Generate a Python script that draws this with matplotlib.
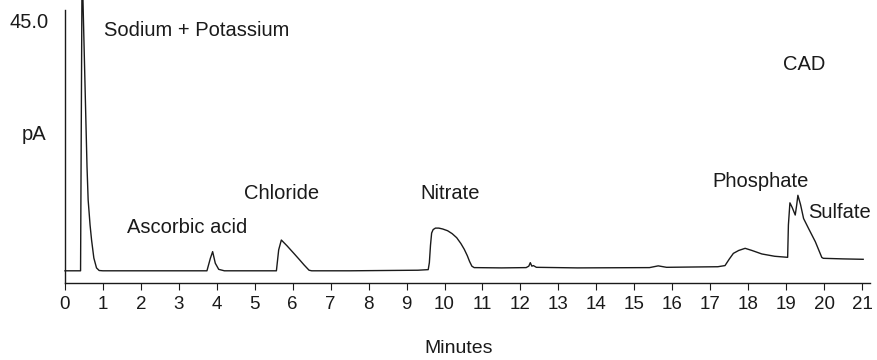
import matplotlib
matplotlib.use("Agg")
import matplotlib.pyplot as plt

plt.rcParams['font.family'] = ['Liberation Sans', 'DejaVu Sans']

# Chromatogram trace (minutes, pA)
time_min = [0.0, 0.41, 0.45, 0.55, 0.58, 0.61, 0.66, 0.70, 0.76, 0.83, 0.90, 1.0,
            2.5, 3.74, 3.83, 3.89, 3.96, 4.05, 4.2,
            5.0, 5.57, 5.63, 5.70, 5.85, 6.03, 6.18, 6.30, 6.43, 6.5,
            7.5, 9.3, 9.57, 9.60, 9.63, 9.66, 9.70, 9.76, 9.85, 9.95, 10.08,
            10.2, 10.32, 10.43, 10.52, 10.6, 10.66, 10.72, 10.78, 11.5,
            12.15, 12.22, 12.26, 12.30, 12.34, 12.42, 13.5, 15.4, 15.63, 15.85,
            16.5, 17.2, 17.39, 17.5, 17.61, 17.75, 17.92, 18.1, 18.36, 18.7,
            19.04, 19.06, 19.10, 19.16, 19.24, 19.28, 19.31, 19.38, 19.46,
            19.59, 19.77, 19.94, 19.98, 20.5, 21.03]
signal_pA = [2.1, 2.1, 55.0, 28.0, 20.0, 14.3, 10.0, 7.4, 4.3, 2.6, 2.15, 2.1,
             2.1, 2.1, 4.25, 5.4, 3.4, 2.35, 2.1,
             2.1, 2.1, 5.7, 7.4, 6.4, 5.1, 4.0, 3.1, 2.2, 2.1,
             2.1, 2.2, 2.3, 3.5, 6.5, 8.6, 9.2, 9.45, 9.45, 9.3, 9.0,
             8.5, 7.8, 6.8, 5.8, 4.7, 3.7, 2.9, 2.65, 2.6,
             2.65, 2.9, 3.5, 2.9, 3.0, 2.7, 2.6, 2.65, 2.95, 2.7,
             2.75, 2.8, 3.0, 4.1, 5.1, 5.6, 5.97, 5.6, 5.0, 4.6,
             4.42, 10.0, 13.8, 13.0, 11.7, 13.5, 15.1, 13.5, 11.1,
             9.4, 7.1, 4.4, 4.25, 4.15, 4.08]

x_ticks = list(range(0, 22))
x_label = "Minutes"
y_label = "pA"
y_top_label = "45.0"
detector = "CAD"

# peak labels: (text, left x px, baseline y px)
peak_labels = [("Sodium + Potassium", 104, 36),
               ("Ascorbic acid", 127, 233),
               ("Chloride", 244, 199),
               ("Nitrate", 420, 199),
               ("Phosphate", 712, 187),
               ("Sulfate", 808, 218)]

W, H = 877, 360
fig = plt.figure(figsize=(W / 100, H / 100), dpi=100)
ax = fig.add_axes([65 / W, (H - 283) / H, (870 - 65) / W, (283 - 10) / H])

ink = '#1a1a1a'
ax.plot(time_min, signal_pA, color=ink, lw=1.0, clip_on=False)
ax.set_xlim(0, 21.21)
ax.set_ylim(0, 47)

for s in ['top', 'right']:
    ax.spines[s].set_visible(False)
for s in ['left', 'bottom']:
    ax.spines[s].set_linewidth(1.0)
    ax.spines[s].set_color(ink)

ax.set_yticks([])
ax.set_xticks(x_ticks)
ax.set_xticklabels([str(t) for t in x_ticks])
ax.tick_params(axis='x', direction='out', length=5, width=0.8, color=ink,
               labelsize=13.5, pad=4.5, labelcolor=ink)


def ftext(x, y, s, **kw):
    fig.text(x / W, 1 - y / H, s, color=ink, va='baseline', **kw)


for text, px, py in peak_labels:
    ftext(px, py, text, fontsize=14.5)
ftext(783, 70, detector, fontsize=14.5)
ftext(22, 140, y_label, fontsize=14.5)
ftext(9, 28, y_top_label, fontsize=14.5)
ftext(424, 353, x_label, fontsize=14)

fig.savefig("out.png", dpi=100)
